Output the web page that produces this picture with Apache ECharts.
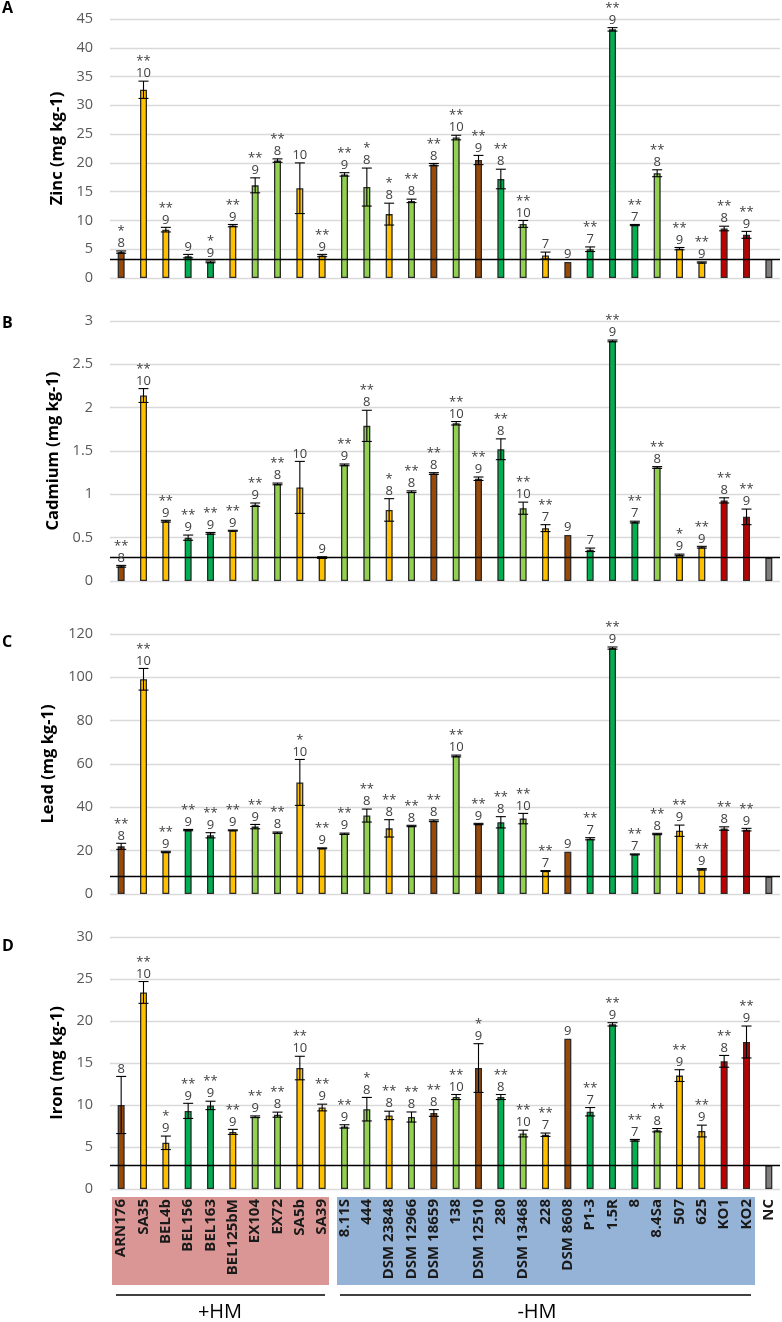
<!DOCTYPE html>
<html>
<head>
<meta charset="utf-8">
<script src="https://cdn.jsdelivr.net/npm/echarts@6/dist/echarts.min.js"></script>
<style>
html,body{margin:0;padding:0;background:#fff;}
#chart{width:782px;height:1322px;}
</style>
</head>
<body>
<div id="chart"></div>
<script>
// ---------- DATA ----------
const categories = ['ARN176','SA35','BEL4b','BEL156','BEL163','BEL125bM','EX104','EX72','SA5b','SA39',
  '8.11S','444','DSM 23848','DSM 12966','DSM 18659','138','DSM 12510','280','DSM 13468','228',
  'DSM 8608','P1-3','1.5R','8','8.4Sa','507','625','KO1','KO2','NC'];
// colour group of each strain: B brown, Y yellow, G green, L light green, R red, N control
const colorGroup = ['B','Y','Y','G','G','Y','L','L','Y','Y',
  'L','L','Y','L','B','L','B','G','L','Y',
  'B','G','G','G','L','Y','Y','R','R','N'];
const nCounts = [8,10,9,9,9,9,9,8,10,9, 9,8,8,8,8,10,9,8,10,7, 9,7,9,7,8,9,9,8,9,''];

const zinc    = [4.5,32.7,8.4,3.8,2.8,9.1,16.1,20.4,15.6,3.9, 18.0,15.8,11.1,13.4,19.7,24.4,20.5,17.2,9.4,3.9, 2.8,5.0,43.2,9.2,18.2,5.1,2.7,8.6,7.5,3.3];
const zincErr = [0.2,1.5,0.4,0.3,0.15,0.2,1.3,0.3,4.4,0.2, 0.3,3.3,1.9,0.3,0.2,0.4,0.8,1.7,0.6,0.6, 0,0.4,0.3,0.1,0.6,0.2,0.1,0.4,0.6,0];
const zincSig = ['*','**','**','','*','**','**','**','','**', '**','*','*','**','**','**','**','**','**','', '','**','**','**','**','**','**','**','**',''];

const cadmium    = [0.17,2.14,0.69,0.50,0.55,0.58,0.88,1.12,1.08,0.27, 1.34,1.79,0.82,1.03,1.24,1.82,1.18,1.52,0.84,0.61, 0.53,0.36,2.77,0.68,1.31,0.30,0.39,0.93,0.74,0.27];
const cadmiumErr = [0.01,0.08,0.01,0.03,0.01,0.005,0.02,0.01,0.3,0.01, 0.01,0.18,0.13,0.01,0.01,0.02,0.02,0.12,0.07,0.04, 0,0.02,0.01,0.01,0.01,0.01,0.01,0.03,0.09,0];
const cadmiumSig = ['**','**','**','**','**','**','**','**','','', '**','**','*','**','**','**','**','**','**','**', '','','**','**','**','*','**','**','**',''];

const lead    = [22.0,99.1,19.4,29.5,27.1,29.4,31.1,28.3,51.5,21.1, 27.8,36.2,30.3,31.4,33.8,63.7,32.3,33.1,34.8,10.6, 19.5,25.5,113.5,18.3,27.7,29.2,11.4,30.2,29.7,8.0];
const leadErr = [1.4,5.0,0.3,0.3,1.2,0.2,1.0,0.3,10.6,0.2, 0.3,3.0,4.0,0.3,0.4,0.4,0.3,2.6,2.4,0.2, 0,0.5,0.5,0.2,0.3,2.6,0.3,0.8,0.6,0];
const leadSig = ['**','**','**','**','**','**','**','**','*','**', '**','**','**','**','**','**','**','**','**','**', '','**','**','**','**','**','**','**','**',''];

const iron    = [10.0,23.4,5.5,9.3,9.95,6.8,8.6,8.85,14.4,9.7, 7.45,9.5,8.76,8.57,9.05,10.95,14.4,10.95,6.6,6.46, 17.9,9.2,19.6,5.8,7.0,13.5,6.9,15.2,17.5,2.8];
const ironErr = [3.4,1.3,0.8,0.9,0.5,0.3,0.1,0.3,1.4,0.4, 0.2,1.4,0.5,0.6,0.4,0.3,2.9,0.3,0.4,0.2, 0,0.5,0.2,0.1,0.2,0.7,0.7,0.7,1.9,0];
const ironSig = ['','**','*','**','**','**','**','**','**','**', '**','*','**','**','**','**','*','**','**','**', '','**','**','**','**','**','**','**','**',''];

const yNames = ['Zinc (mg kg-1)','Cadmium (mg kg-1)','Lead (mg kg-1)','Iron (mg kg-1)'];
const yMax = [45,3,120,30];
const yStep = [5,0.5,20,5];
const panelLetters = ['A','B','C','D'];
const groupLabels = ['+HM','-HM'];

// ---------- STYLE / LAYOUT ----------
const palette = {B:'#984807',Y:'#FFC000',G:'#00B050',L:'#92D050',R:'#C00000',N:'#7F7F7F'};
const FONT = 'Open Sans';
const grids = [
  {left:110,right:2,top:19,height:259},
  {left:110,right:2,top:321,height:260},
  {left:110,right:2,top:634,height:260},
  {left:110,right:2,top:937,height:252}
];
const panels = [
  {v:zinc,e:zincErr,s:zincSig},
  {v:cadmium,e:cadmiumErr,s:cadmiumSig},
  {v:lead,e:leadErr,s:leadSig},
  {v:iron,e:ironErr,s:ironSig}
];

const xAxes = [], yAxes = [], series = [];
panels.forEach((p,k)=>{
  const last = k===3;
  xAxes.push({
    type:'category', gridIndex:k, data:categories,
    axisLine:{show:false}, axisTick:{show:false},
    axisLabel: last ? {show:true, rotate:90, margin:10, interval:0, fontFamily:FONT, fontSize:15,
      fontWeight:'bold', color:'#1a1a1a'} : {show:false},
    splitLine:{show:false}
  });
  yAxes.push({
    type:'value', gridIndex:k, min:0, max:yMax[k], interval:yStep[k],
    name:yNames[k], nameLocation:'middle', nameGap:36,
    nameTextStyle:{fontFamily:FONT, fontSize:16.5, fontWeight:'bold', color:'#000'},
    axisLine:{show:false}, axisTick:{show:false},
    axisLabel:{fontFamily:FONT, fontSize:14.5, color:'#595959', margin:17},
    splitLine:{lineStyle:{color:'#d9d9d9', width:1.3}}
  });
  series.push({
    type:'bar', xAxisIndex:k, yAxisIndex:k, barWidth:7, z:2,
    data: p.v.map((val,i)=>({value:val, itemStyle:{color:palette[colorGroup[i]]}})),
    itemStyle:{borderColor:'#2b2b2b', borderWidth:1.3},
    markLine:{silent:true, symbol:'none', label:{show:false},
      lineStyle:{color:'#000', type:'solid', width:1.3},
      data:[{yAxis:p.v[p.v.length-1]}]}
  });
  series.push({
    type:'custom', xAxisIndex:k, yAxisIndex:k, z:5,
    data: p.v.map((val,i)=>[i,val,p.e[i]]),
    renderItem:(params,api)=>{
      const idx = params.dataIndex;
      const i = api.value(0), v = api.value(1), e = api.value(2);
      const top = api.coord([i, v+e]);
      const bot = api.coord([i, v-e]);
      const x = top[0];
      const children = [];
      if (e>0){
        const st = {stroke:'#000', lineWidth:1.1};
        children.push({type:'line', shape:{x1:x,y1:bot[1],x2:x,y2:top[1]}, style:st});
        children.push({type:'line', shape:{x1:x-5,y1:top[1],x2:x+5,y2:top[1]}, style:st});
        children.push({type:'line', shape:{x1:x-5,y1:bot[1],x2:x+5,y2:bot[1]}, style:st});
      }
      const n = nCounts[idx];
      if (n!==''){
        children.push({type:'text', x:x, y:top[1]-1,
          style:{text:String(n), align:'center', verticalAlign:'bottom', fontFamily:FONT, fontSize:13, fill:'#404040'}});
      }
      const s = p.s[idx];
      if (s){
        children.push({type:'text', x:x, y:top[1]-13,
          style:{text:s, align:'center', verticalAlign:'bottom', fontFamily:FONT, fontSize:13, fill:'#404040'}});
      }
      return {type:'group', children};
    }
  });
});

const graphics = [];
const letterTops = [0,315,634,938];
panelLetters.forEach((t,k)=>graphics.push({type:'text', left:2, top:letterTops[k],
  style:{text:t, fontFamily:FONT, fontSize:16, fontWeight:'bold', fill:'#000'}}));
graphics.push({type:'rect', z:-10, shape:{x:112,y:1197,width:217,height:88}, style:{fill:'#DA9694'}});
graphics.push({type:'rect', z:-10, shape:{x:337,y:1197,width:418,height:88}, style:{fill:'#95B3D7'}});
graphics.push({type:'line', shape:{x1:116,y1:1295,x2:325,y2:1295}, style:{stroke:'#000', lineWidth:1.5}});
graphics.push({type:'line', shape:{x1:340,y1:1295,x2:751,y2:1295}, style:{stroke:'#000', lineWidth:1.5}});
graphics.push({type:'text', x:220, y:1312, style:{text:groupLabels[0], align:'center', verticalAlign:'middle', fontFamily:FONT, fontSize:20, fill:'#000'}});
graphics.push({type:'text', x:537, y:1312, style:{text:groupLabels[1], align:'center', verticalAlign:'middle', fontFamily:FONT, fontSize:20, fill:'#000'}});

const chart = echarts.init(document.getElementById('chart'), null, {renderer:'canvas'});
chart.setOption({
  animation:false,
  backgroundColor:'#fff',
  grid:grids,
  xAxis:xAxes,
  yAxis:yAxes,
  series:series,
  graphic:graphics
});
</script>
</body>
</html>
